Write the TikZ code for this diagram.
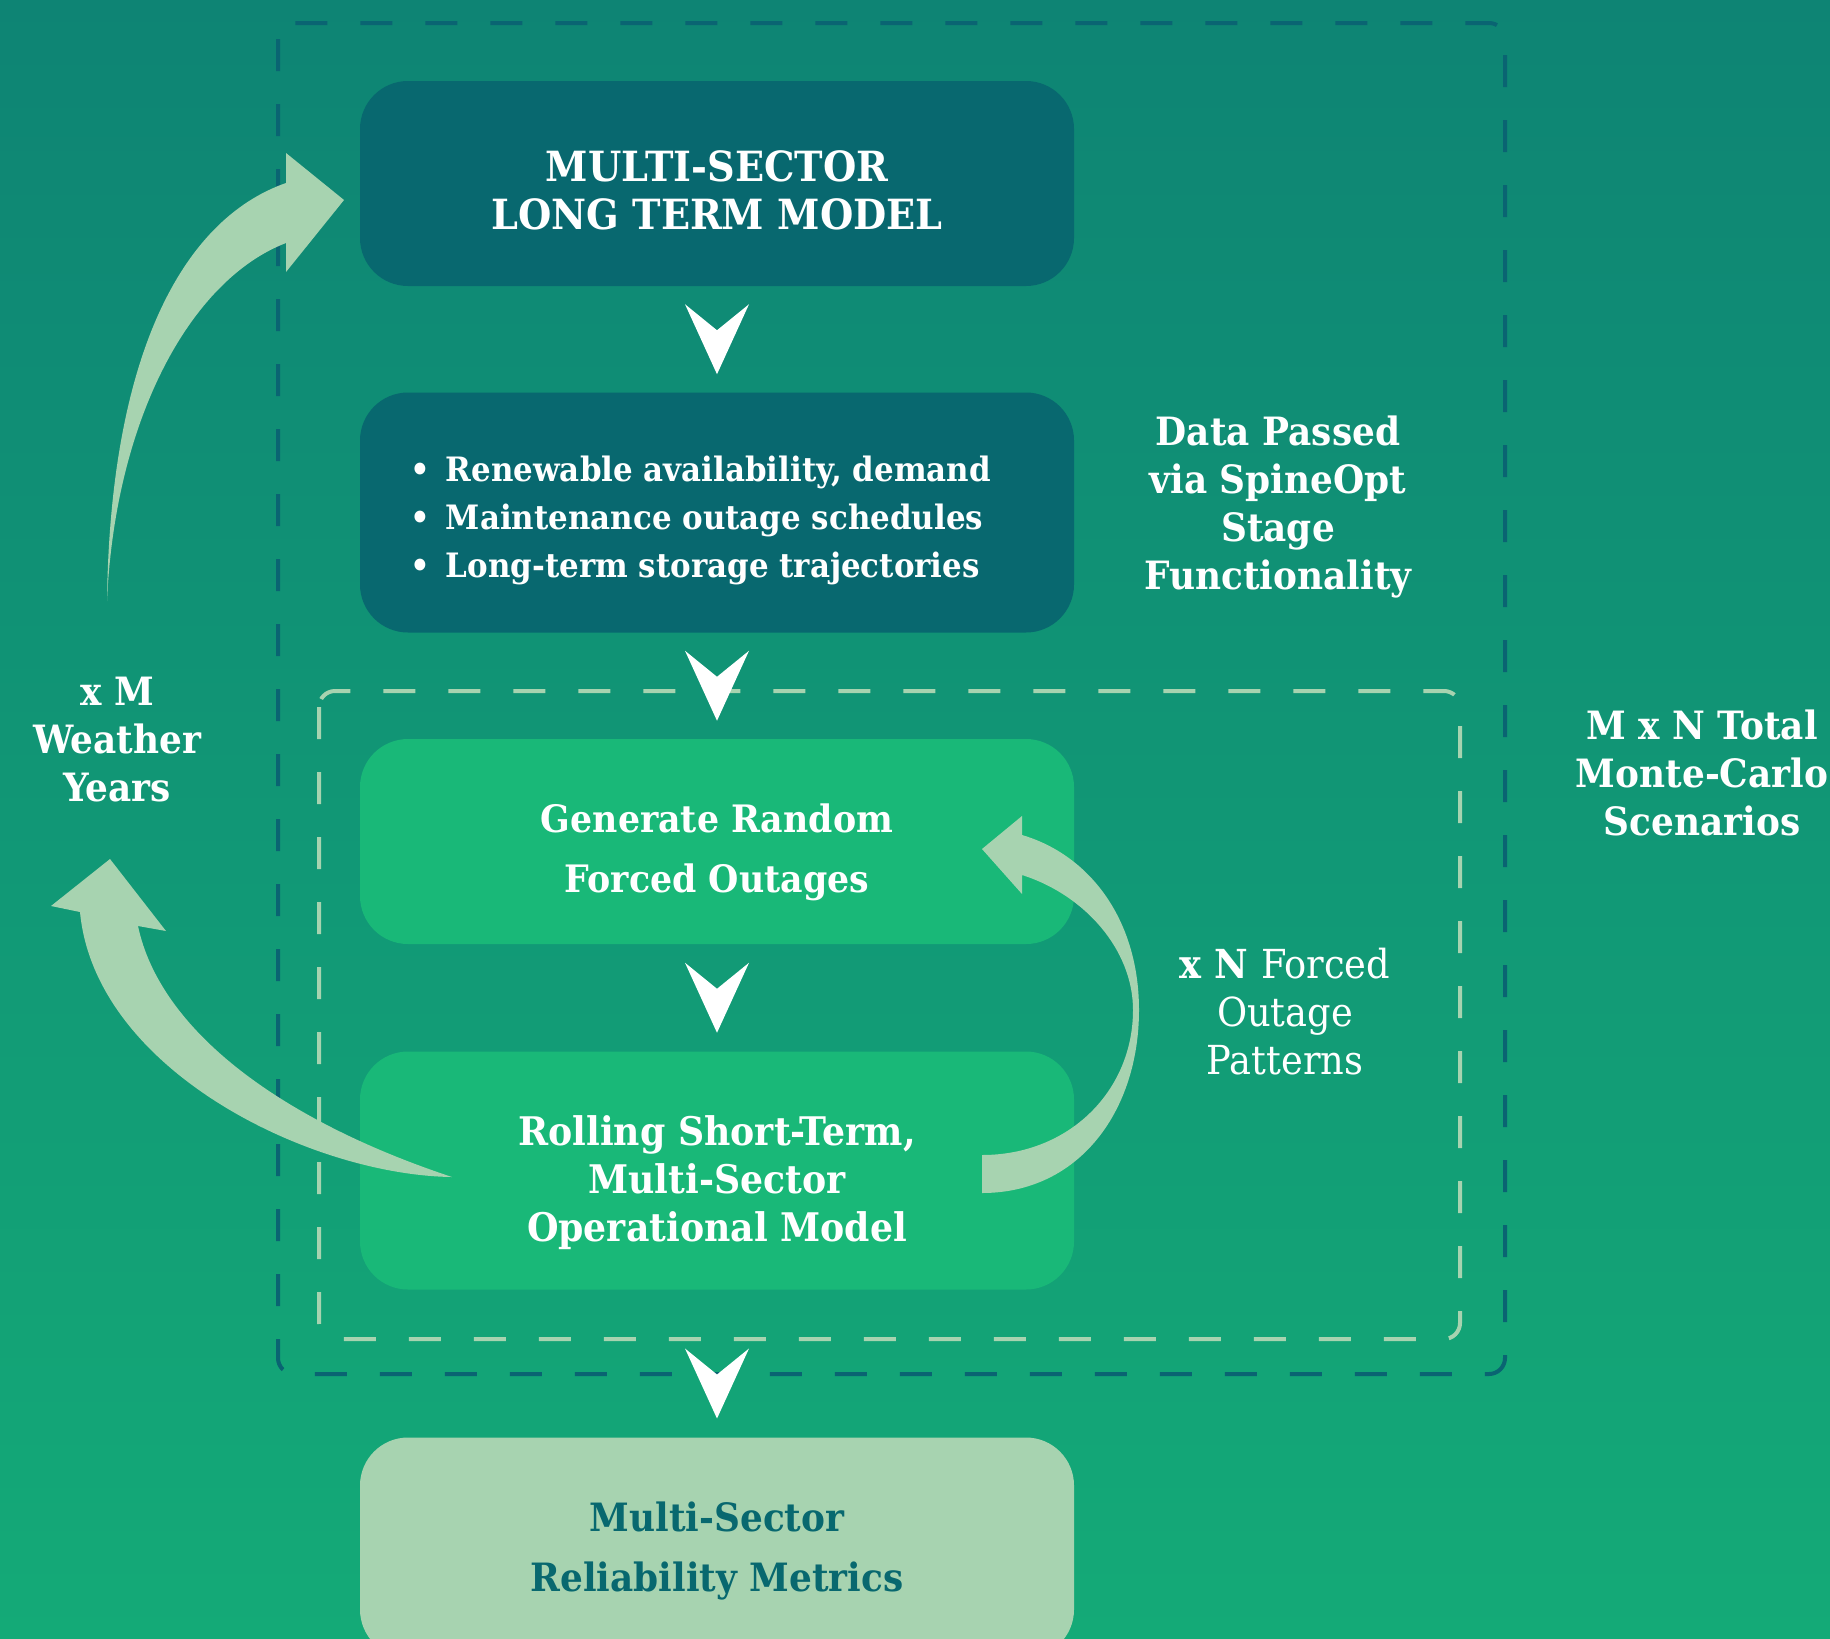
\documentclass[tikz,border=0pt]{standalone}
\usepackage{fontspec}
\setmainfont{DejaVu Serif}[FakeStretch=0.92]
\usepackage{tikz}
\usetikzlibrary{calc,positioning}

\definecolor{bgTop}{HTML}{0E8474}
\definecolor{bgBottom}{HTML}{14AA77}
\definecolor{darkTeal}{HTML}{08686F}
\definecolor{frameTeal}{HTML}{0A6472}
\definecolor{brightGreen}{HTML}{19B878}
\definecolor{paleGreen}{HTML}{A7D3B0}

\tikzset{
     modelBox/.style =
        { rectangle
        , rounded corners=24pt
        , minimum width=357pt
        , text=white
        , align=center
        , font=\bfseries\fontsize{19.5}{24}\selectfont
        }
   , darkBox/.style = { modelBox, fill=darkTeal }
   , greenBox/.style = { modelBox, fill=brightGreen }
   , paleBox/.style = { modelBox, fill=paleGreen, text=darkTeal }
   , sideLabel/.style =
        { text=white
        , align=center
        , font=\bfseries\fontsize{19.5}{24}\selectfont
        }
   , outerFrame/.style =
        { draw=frameTeal
        , line width=2pt
        , dash pattern=on 16pt off 16.5pt
        , rounded corners=8pt
        }
   , innerFrame/.style =
        { draw=paleGreen
        , line width=2pt
        , dash pattern=on 16pt off 16.5pt
        , rounded corners=8pt
        }
   , loopArrow/.style = { fill=paleGreen }
   , chevron/.style = { fill=white }
}

\begin{document}
\begin{tikzpicture}
            [ x=0.5pt
            , y=-0.5pt
            , node distance=164.5pt
            ]
            % background
            \shade[top color=bgTop, bottom color=bgBottom] (0,0) rectangle (1830,1638);
            \useasboundingbox (0,0) rectangle (1830,1638);

            % dashed frames
            \draw[outerFrame] (278,23) rectangle (1505,1374);
            \draw[innerFrame] (319,691) rectangle (1460,1339);

            % model chain (the rules push each text a little below the middle)
            \node[darkBox, minimum height=102.5pt, font=\bfseries\fontsize{20.8}{24}\selectfont]
                (longTerm) at (717,183.5) {\rule{0pt}{22pt}MULTI-SECTOR\\LONG TERM MODEL};
            \node[darkBox, minimum height=120pt, align=left, font=\bfseries\fontsize{16.8}{24}\selectfont]
                (stage) [below of=longTerm]
                {\rule{0pt}{21pt}\makebox[17.5pt][l]{\textbullet}Renewable availability, demand\hspace*{16pt}\\
                 \makebox[17.5pt][l]{\textbullet}Maintenance outage schedules\\
                 \makebox[17.5pt][l]{\textbullet}Long-term storage trajectories};
            \node[greenBox, minimum height=102.5pt, font=\bfseries\fontsize{18.9}{30}\selectfont]
                (forced) [below of=stage] {\rule{0pt}{25pt}Generate Random\\Forced Outages};
            \node[greenBox, minimum height=119pt, font=\bfseries\fontsize{19.7}{24}\selectfont]
                (rolling) [below of=forced]
                {\rule{0pt}{27pt}Rolling Short-Term,\\Multi-Sector\\Operational Model};
            \node[paleBox, minimum height=110pt, font=\bfseries\fontsize{19.5}{30}\selectfont]
                (metrics) [below of=rolling, node distance=188.5pt]
                {\rule{0pt}{18pt}Multi-Sector\\Reliability Metrics};

            % side labels
            \node[sideLabel] (dataPassed) at (1278,507) {Data Passed\\via SpineOpt\\Stage\\Functionality};
            \node[sideLabel, font=\bfseries\fontsize{20}{24}\selectfont] (nPatterns) at (1285,1012)
                {x N {\mdseries Forced}\\{\mdseries Outage}\\{\mdseries Patterns}};
            \node[sideLabel] (totalRuns) at (1702,773) {M x N Total\\Monte-Carlo\\Scenarios};
            \node[sideLabel] (mYears) at (117,740) {x M\\Weather\\Years};

            % chevrons between the stages
            \foreach \a/\b/\d in {longTerm/stage/0, stage/forced/0, forced/rolling/0, rolling/metrics/20}
                \fill[chevron] ($(\a.south)!0.5!(\b.north)$) ++(-32,\d-35)
                    -- ++(32,26) -- ++(32,-26) -- ++(-32,70) -- cycle;

            % weather years loop
            \fill[loopArrow] (344,200) -- (286,153) -- (286,183)
                .. controls (180,220) and (110,360) .. (107,601)
                .. controls (115,420) and (190,280) .. (286,243)
                -- (286,272) -- cycle;
            \fill[loopArrow] (110,859) -- (166,931) -- (138,926)
                .. controls (160,1030) and (280,1120) .. (452,1177)
                .. controls (310,1175) and (95,1070) .. (80,912)
                -- (51,906) -- cycle;

            % forced outage loop
            \fill[loopArrow] (982,849) -- (1022,816) -- (1022,835)
                .. controls (1090,855) and (1139,920) .. (1139,1010)
                .. controls (1139,1110) and (1080,1193) .. (982,1193)
                -- (982,1155)
                .. controls (1070,1155) and (1133,1090) .. (1133,1010)
                .. controls (1133,950) and (1085,895) .. (1022,875)
                -- (1022,894) -- cycle;
        \end{tikzpicture}
\end{document}
